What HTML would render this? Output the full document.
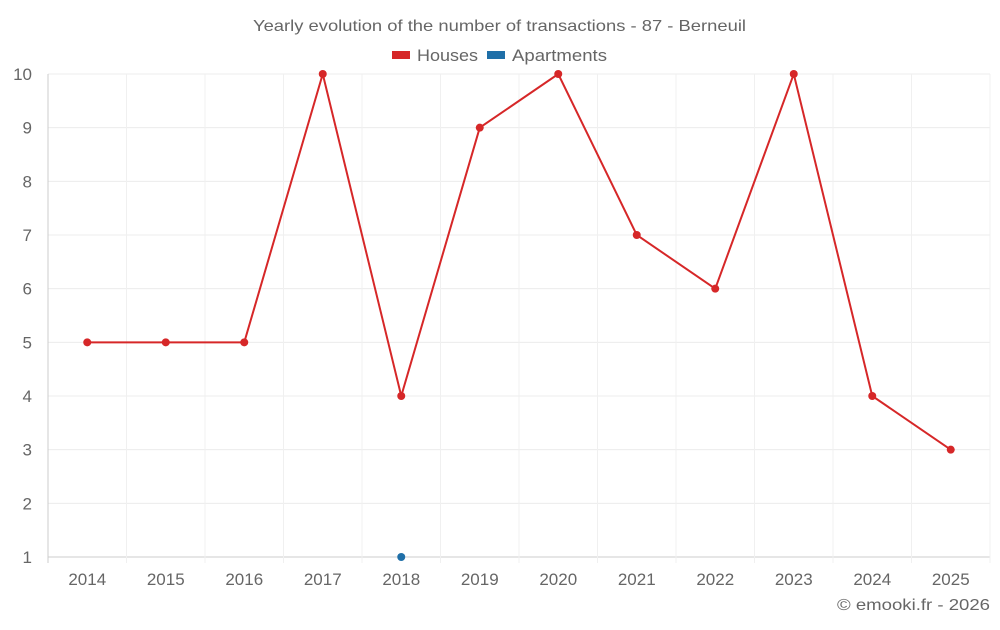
<!DOCTYPE html>
<html><head><meta charset="utf-8"><style>
body{margin:0;background:#fff;font-family:"Liberation Sans",sans-serif;}
svg text{font-family:"Liberation Sans",sans-serif;fill:#666;}
</style></head><body>
<svg id="chart" width="1000" height="625">
<text x="253" y="31" font-size="16" textLength="493" lengthAdjust="spacingAndGlyphs">Yearly evolution of the number of transactions - 87 - Berneuil</text>
<g>
<g><rect x="392" y="51" width="18" height="8" fill="#d62728"/><text x="417" y="61" font-size="17" textLength="61" lengthAdjust="spacingAndGlyphs">Houses</text></g>
<g><rect x="487" y="51" width="18" height="8" fill="#1f6fa8"/><text x="512" y="61" font-size="17" textLength="95" lengthAdjust="spacingAndGlyphs">Apartments</text></g>
</g>
<g id="grid"></g><g id="axes"></g><g id="series"></g>
<text x="837" y="610" font-size="16" textLength="153" lengthAdjust="spacingAndGlyphs">© emooki.fr - 2026</text>
</svg>
<script>
const categories=["2014","2015","2016","2017","2018","2019","2020","2021","2022","2023","2024","2025"];
const houses=[5,5,5,10,4,9,10,7,6,10,4,3];
const apartments=[null,null,null,null,1,null,null,null,null,null,null,null];
const yTicks=[1,2,3,4,5,6,7,8,9,10];
const L=48,R=990,T=74,B=557,yMin=1,yMax=10;
const bw=(R-L)/categories.length;
const x=i=>L+bw*(i+0.5);
const y=v=>B-(v-yMin)/(yMax-yMin)*(B-T);
const NS="http://www.w3.org/2000/svg";
function mk(tag,attrs,parent){const e=document.createElementNS(NS,tag);for(const k in attrs)e.setAttribute(k,attrs[k]);parent.appendChild(e);return e;}
const grid=document.getElementById('grid'),axes=document.getElementById('axes'),series=document.getElementById('series');
yTicks.forEach(v=>{
 const l=mk('line',{x1:L,x2:R,y1:y(v),y2:y(v),stroke:v===yMin?'#ccc':'#ececec'},grid);
 
 
 const t=mk('text',{x:32,y:y(v)+6,'text-anchor':'end','font-size':17},axes);
 t.textContent=v;
 
 
});
for(let i=0;i<=categories.length;i++){
 const l=mk('line',{x1:L+bw*i,x2:L+bw*i,y1:T,y2:B+6,stroke:i===0?'#ccc':'#f0f0f0'},grid);
 
 
}
categories.forEach((c,i)=>{
 const t=mk('text',{x:x(i),y:585,'text-anchor':'middle','font-size':17},axes);
 t.textContent=c;
 
 
});
function draw(data,color,name){
 const pts=[];data.forEach((v,i)=>{if(v!==null)pts.push([x(i),y(v)]);});
 if(pts.length>1){const p=mk('polyline',{points:pts.map(p=>p.join(',')).join(' '),fill:'none',stroke:color,'stroke-width':2},series);
 
 }
 pts.forEach(p=>{const c=mk('circle',{cx:p[0],cy:p[1],r:4,fill:color},series);
 
 });
}
draw(houses,'#d62728','houses');
draw(apartments,'#1f6fa8','apartments');
</script>
</body></html>
